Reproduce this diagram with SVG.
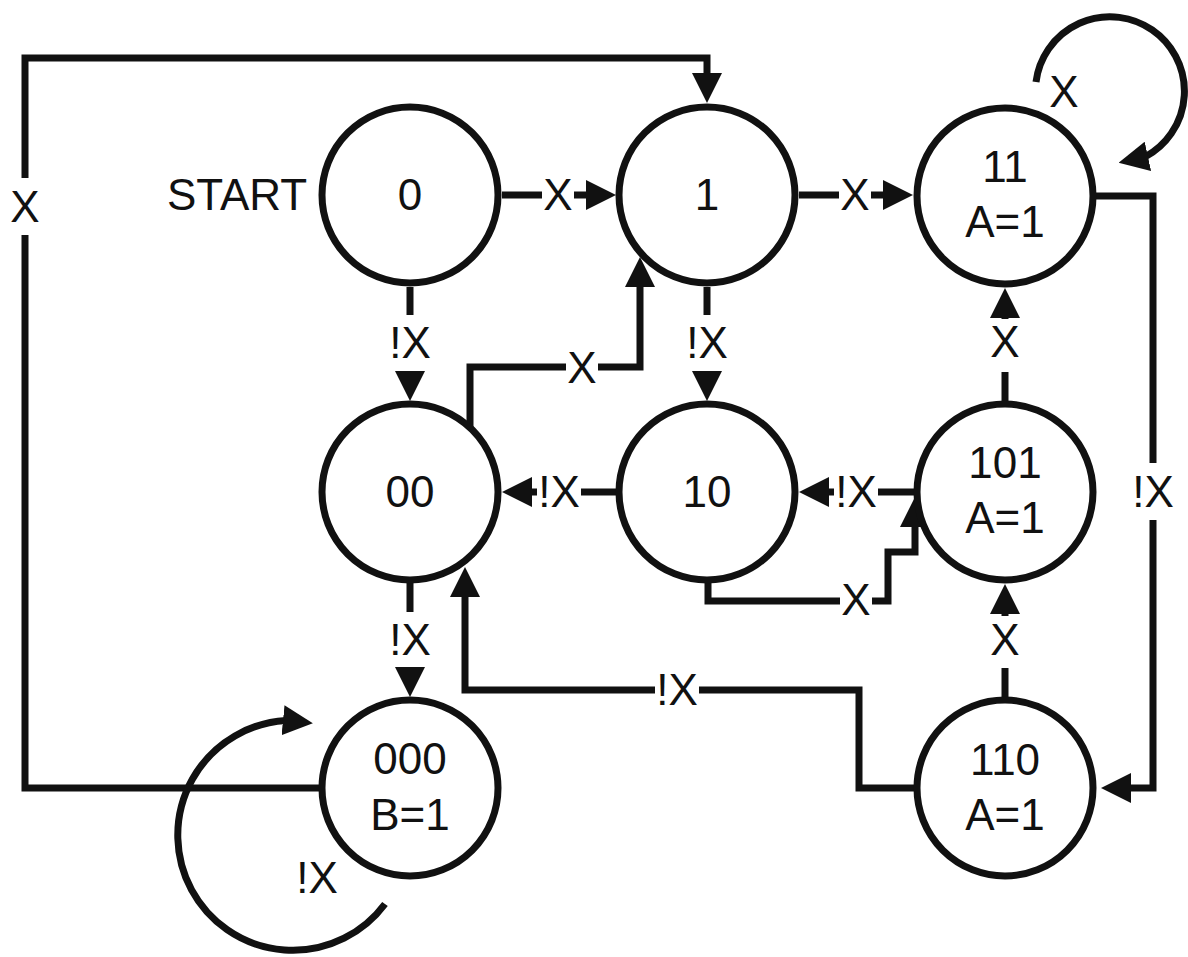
<svg xmlns="http://www.w3.org/2000/svg" width="1188" height="957" viewBox="0 0 1188 957">
<style>
.node circle{fill:#fff;stroke:#111;stroke-width:7}
text{font-family:"Liberation Sans",Arial,sans-serif;font-size:44px;fill:#111;text-anchor:middle}
.edge path{fill:none;stroke:#111;stroke-width:7;stroke-linejoin:miter}
.bg{fill:#fff}
</style>
<defs>
<marker id="ah" viewBox="0 0 30 30" markerUnits="userSpaceOnUse" markerWidth="30" markerHeight="30" refX="4" refY="15" orient="auto"><path d="M0,0 L30,15 L0,30 z" fill="#111"/></marker>
</defs>
<rect width="1188" height="957" fill="#fff"/>
<g id="connectors">
<g class="edge" id="e-0-1"><path d="M502 195 H590" marker-end="url(#ah)"/><rect class="bg" x="542" y="175" width="32" height="40"/><text x="558" y="210">X</text></g>
<g class="edge" id="e-1-11"><path d="M799 195 H887" marker-end="url(#ah)"/><rect class="bg" x="839" y="175" width="32" height="40"/><text x="855" y="210">X</text></g>
<g class="edge" id="e-0-00"><path d="M410 287 V375" marker-end="url(#ah)"/><rect class="bg" x="385" y="315" width="50" height="56"/><text x="410" y="358">!X</text></g>
<g class="edge" id="e-1-10"><path d="M707 287 V375" marker-end="url(#ah)"/><rect class="bg" x="682" y="315" width="50" height="56"/><text x="707" y="358">!X</text></g>
<g class="edge" id="e-00-1"><path d="M470 428 V367 H640 V283" marker-end="url(#ah)"/><rect class="bg" x="566" y="350" width="32" height="36"/><text x="582" y="383">X</text></g>
<g class="edge" id="e-10-00"><path d="M619 492 H528" marker-end="url(#ah)"/><rect class="bg" x="537" y="472" width="44" height="40"/><text x="559" y="507">!X</text></g>
<g class="edge" id="e-101-10"><path d="M917 492 H825" marker-end="url(#ah)"/><rect class="bg" x="834" y="472" width="44" height="40"/><text x="856" y="507">!X</text></g>
<g class="edge" id="e-10-101"><path d="M708 580 V601 H888 V552 H915 V523" marker-end="url(#ah)"/><rect class="bg" x="840" y="582" width="32" height="38"/><text x="856" y="615">X</text></g>
<g class="edge" id="e-101-11"><path d="M1005 404 V314" marker-end="url(#ah)"/><rect class="bg" x="985" y="319" width="40" height="53"/><text x="1005" y="357">X</text></g>
<g class="edge" id="e-110-101"><path d="M1005 700 V610" marker-end="url(#ah)"/><rect class="bg" x="985" y="616" width="40" height="52"/><text x="1005" y="655">X</text></g>
<g class="edge" id="e-11-110"><path d="M1093 196 H1153 V788 H1127" marker-end="url(#ah)"/><rect class="bg" x="1128" y="463" width="50" height="57"/><text x="1153" y="507">!X</text></g>
<g class="edge" id="e-00-000"><path d="M410 580 V671" marker-end="url(#ah)"/><rect class="bg" x="385" y="612" width="50" height="55"/><text x="410" y="655">!X</text></g>
<g class="edge" id="e-110-00"><path d="M917 788 H859 V690 H465 V593" marker-end="url(#ah)"/><rect class="bg" x="655" y="670" width="44" height="40"/><text x="677" y="705">!X</text></g>
<g class="edge" id="e-000-1"><path d="M322 788 H25 V58 H707 V77" marker-end="url(#ah)"/><rect class="bg" x="5" y="178" width="40" height="57"/><text x="25" y="222">X</text></g>
<g class="edge" id="e-000-000"><path d="M385 904 A115 115 0 1 1 286 720.5 L287 720.6" marker-end="url(#ah)"/><text x="317" y="893">!X</text></g>
<g class="edge" id="e-11-11"><path d="M1036 82 A74.5 74.5 0 1 1 1145 157 L1144 157.22" marker-end="url(#ah)"/><text x="1064" y="107">X</text></g>
</g>
<g class="node" id="n-0"><circle cx="410" cy="195" r="88"/><text x="410" y="210">0</text></g>
<text id="start" x="167" y="210" style="text-anchor:start">START</text>
<g class="node" id="n-1"><circle cx="707" cy="195" r="88"/><text x="707" y="210">1</text></g>
<g class="node" id="n-11"><circle cx="1005" cy="196" r="88"/><text x="1005" y="182">11</text><text x="1005" y="237">A=1</text></g>
<g class="node" id="n-00"><circle cx="410" cy="492" r="88"/><text x="410" y="507">00</text></g>
<g class="node" id="n-10"><circle cx="707" cy="492" r="88"/><text x="707" y="507">10</text></g>
<g class="node" id="n-101"><circle cx="1005" cy="492" r="88"/><text x="1005" y="478">101</text><text x="1005" y="533">A=1</text></g>
<g class="node" id="n-000"><circle cx="410" cy="788" r="88"/><text x="410" y="774">000</text><text x="410" y="830">B=1</text></g>
<g class="node" id="n-110"><circle cx="1005" cy="788" r="88"/><text x="1005" y="775">110</text><text x="1005" y="830">A=1</text></g>
</svg>
